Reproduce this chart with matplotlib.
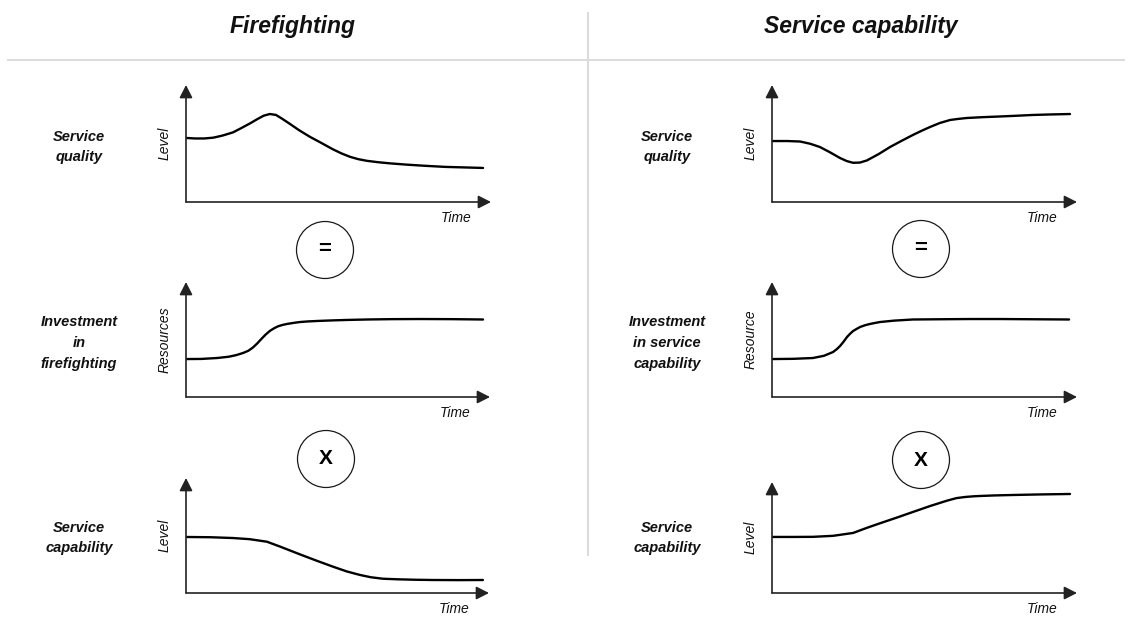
import matplotlib
matplotlib.use("Agg")
import matplotlib.pyplot as plt
from matplotlib.patches import Circle
from matplotlib.lines import Line2D

plt.rcParams['font.family'] = ['Liberation Sans', 'DejaVu Sans']

# ---------------- data (time 0-100, level 0-100 per panel) ----------------
column_titles = ["Firefighting", "Service capability"]

left_row_labels = ["Service\nquality", "Investment\nin\nfirefighting", "Service\ncapability"]
right_row_labels = ["Service\nquality", "Investment\nin service\ncapability", "Service\ncapability"]
left_y_labels = ["Level", "Resources", "Level"]
right_y_labels = ["Level", "Resource", "Level"]
x_label = "Time"
operators = ["=", "X"]

# Firefighting: service quality
ff_quality_t = [0.3, 3, 6, 9, 12, 15.4, 18, 21, 23.5, 25.5, 27.5, 29.5, 31.5, 34.1, 37,
                40.7, 44, 48.2, 51, 53.8, 56.5, 59.3, 63, 67, 72, 78, 85, 92, 97.4]
ff_quality_v = [54.7, 54.3, 54.3, 55.0, 56.8, 59.5, 63.0, 67.2, 71.0, 73.8, 75.2, 74.4, 71.2,
                66.7, 61.5, 55.6, 51.0, 45.0, 41.5, 38.6, 36.6, 35.2, 34.0, 33.0, 32.0, 31.0,
                30.0, 29.5, 29.1]

# Firefighting: investment in firefighting
ff_invest_t = [0.3, 5, 10.2, 14, 16.5, 18.8, 20.5, 22, 23.4, 24.8, 26.2, 27.6, 29, 30.3, 31.8,
               33.2, 35.5, 37.5, 40, 43.1, 48, 53, 59.5, 68, 77, 87, 97.7]
ff_invest_v = [33.0, 33.1, 33.9, 35.0, 36.4, 38.3, 40.2, 43.0, 46.5, 50.5, 54.3, 57.5, 59.8,
               61.5, 62.7, 63.5, 64.5, 65.2, 65.7, 66.1, 66.6, 67.0, 67.4, 67.7, 67.8, 67.7, 67.4]

# Firefighting: service capability
ff_capab_t = [0.3, 8, 15.5, 21, 26.7, 31.0, 37.6, 43, 48.5, 53, 57.4, 61, 65.0, 70, 76, 81.5,
              90, 98.0]
ff_capab_v = [48.7, 48.5, 47.8, 46.8, 44.6, 40.4, 33.6, 28.2, 22.9, 18.8, 15.7, 13.7, 12.4,
              11.9, 11.5, 11.3, 11.2, 11.3]

# Service capability: service quality
sc_quality_t = [0.3, 5, 9.2, 12.5, 15.7, 19, 22.3, 24.5, 26.6, 28.8, 31.1, 35, 38.7, 42.5,
                46.2, 49, 51.8, 55, 58.4, 61, 63.9, 69, 74.8, 80, 85.6, 91, 97.7]
sc_quality_v = [52.1, 52.1, 51.7, 49.8, 47.0, 42.5, 37.6, 35.0, 33.5, 33.7, 35.5, 41.0, 47.0,
                52.3, 57.3, 60.8, 64.1, 67.5, 70.1, 71.0, 71.8, 72.5, 73.1, 73.7, 74.4, 74.8,
                75.2]

# Service capability: investment in service capability
sc_invest_t = [0.3, 7, 13.4, 17, 20.0, 21.2, 22.3, 23.5, 24.6, 25.6, 26.6, 27.8, 28.9, 30.5,
               32.1, 33.8, 35.4, 40, 46.2, 55, 65, 74.8, 86, 97.4]
sc_invest_v = [33.0, 33.2, 33.9, 35.8, 39.1, 41.5, 44.3, 48.2, 52.2, 55.0, 57.4, 59.3, 60.9,
               62.4, 63.5, 64.4, 65.2, 66.4, 67.4, 67.6, 67.8, 67.8, 67.6, 67.4]

# Service capability: service capability
sc_capab_t = [0.3, 7, 13.4, 20, 26.6, 31, 35.4, 41, 46.2, 52, 57.4, 60.5, 63.3, 66, 68.2, 73,
              79.0, 88, 97.7]
sc_capab_v = [50.5, 50.5, 50.6, 51.5, 54.1, 58.6, 62.8, 68.0, 73.0, 78.5, 83.2, 85.5, 86.5,
              87.1, 87.4, 87.9, 88.3, 88.8, 89.2]

left_series = [(ff_quality_t, ff_quality_v), (ff_invest_t, ff_invest_v), (ff_capab_t, ff_capab_v)]
right_series = [(sc_quality_t, sc_quality_v), (sc_invest_t, sc_invest_v), (sc_capab_t, sc_capab_v)]

# ---------------- layout ----------------
W, H = 1132, 617
fig = plt.figure(figsize=(W / 100, H / 100), dpi=100)
fig.patch.set_facecolor("white")


def fx(x):
    return x / W


def fy(y):
    return 1 - y / H


# panel boxes in pixels: (x_axis_start, x_arrow_tip, y_bottom, y_arrow_top)
left_boxes = [(186, 491, 202, 85), (186, 490, 397, 282), (186, 489, 593, 478)]
right_boxes = [(772, 1077, 202, 85), (772, 1077, 397, 282), (772, 1077, 593, 482)]

axis_color = "#222222"


def draw_panel(box, t, v, ylab):
    x0, x1, yb, yt = box
    ax = fig.add_axes([fx(x0), fy(yb), (x1 - x0) / W, (yb - yt) / H])
    ax.set_xlim(0, 100)
    ax.set_ylim(0, 100)
    ax.axis("off")
    arrow = dict(arrowstyle="-|>,head_length=0.55,head_width=0.28", color=axis_color,
                 lw=1.2, shrinkA=0, shrinkB=0, mutation_scale=14)
    ax.annotate("", xy=(1, 0), xytext=(0, 0), xycoords="axes fraction",
                textcoords="axes fraction", arrowprops=arrow)
    ax.annotate("", xy=(0, 1), xytext=(0, 0), xycoords="axes fraction",
                textcoords="axes fraction", arrowprops=arrow)
    ax.plot(t, v, color="black", lw=1.7, solid_joinstyle="round",
            solid_capstyle="round", clip_on=False)
    # y label
    fig.text(fx(x0 - 21), fy((yb + yt) / 2), ylab, rotation=90, style="italic",
             fontsize=10, ha="center", va="center", color="#111111")
    # time label
    fig.text(fx(x1 - 35), fy(yb + 16), x_label, style="italic", fontsize=10,
             ha="center", va="center", color="#111111")


for box, (t, v), yl in zip(left_boxes, left_series, left_y_labels):
    draw_panel(box, t, v, yl)
for box, (t, v), yl in zip(right_boxes, right_series, right_y_labels):
    draw_panel(box, t, v, yl)

# row labels
label_y = [147, 343, 538]
for lab, y in zip(left_row_labels, label_y):
    fig.text(fx(79), fy(y), lab, fontsize=10.5, weight="bold", style="italic",
             ha="center", va="center", linespacing=1.6, color="#111111")
for lab, y in zip(right_row_labels, label_y):
    fig.text(fx(667), fy(y), lab, fontsize=10.5, weight="bold", style="italic",
             ha="center", va="center", linespacing=1.6, color="#111111")

# titles
fig.text(fx(293), fy(27), column_titles[0], fontsize=16.5, weight="bold", style="italic",
         ha="center", va="center", color="#111111")
fig.text(fx(861), fy(27), column_titles[1], fontsize=16.5, weight="bold", style="italic",
         ha="center", va="center", color="#111111")

# separators
fig.add_artist(Line2D([fx(8), fx(1124)], [fy(60), fy(60)], color="#dcdcdc", lw=1.5))
fig.add_artist(Line2D([fx(588), fx(588)], [fy(13), fy(555)], color="#dcdcdc", lw=1.5))

# operator circles
circle_centers = [((325, 250), operators[0]), ((326, 459), operators[1]),
                  ((921, 249), operators[0]), ((921, 460), operators[1])]
for (cx, cy), sym in circle_centers:
    c = Circle((cx / 100, (H - cy) / 100), 0.285, transform=fig.dpi_scale_trans,
               facecolor="none", edgecolor="#1a1a1a", lw=0.9)
    fig.add_artist(c)
    fig.text(fx(cx), fy(cy), sym, fontsize=16 if sym == "=" else 15, weight="bold",
             ha="center", va="center", color="black")

fig.savefig("out.png", dpi=100, facecolor="white")
